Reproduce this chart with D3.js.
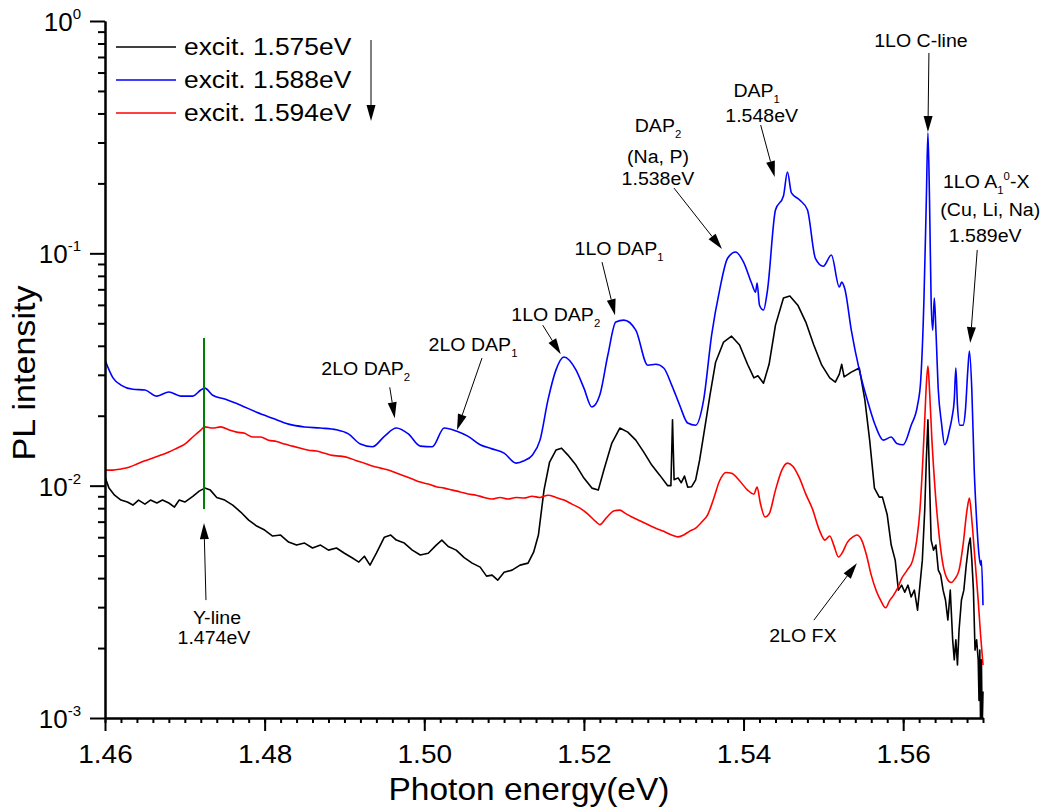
<!DOCTYPE html>
<html>
<head>
<meta charset="utf-8">
<script src="https://cdn.jsdelivr.net/npm/d3@7"></script>
<style>
  body { margin: 0; background: #fff; }
  svg text { font-family: "Liberation Sans", Arial, Helvetica, sans-serif; fill: #000; }
</style>
</head>
<body>
<div id="chart"></div>
<script>
// PL spectra, three excitation energies (energy in eV, intensity in arb. units)
var energy1575 = [1.4600,1.4605,1.4612,1.4620,1.4628,1.4635,1.4642,1.4650,1.4657,1.4665,1.4672,1.4680,1.4687,1.4693,1.4700,
  1.4710,1.4718,1.4725,1.4732,1.4740,1.4750,1.4760,1.4770,1.4780,1.4790,1.4800,1.4810,1.4820,1.4830,1.4840,1.4850,1.4860,
  1.4870,1.4880,1.4890,1.4900,1.4910,1.4918,1.4925,1.4932,1.4940,1.4950,1.4958,1.4965,1.4975,1.4985,1.4995,1.5005,1.5015,
  1.5022,1.5030,1.5040,1.5050,1.5060,1.5070,1.5078,1.5085,1.5092,1.5100,1.5110,1.5120,1.5130,1.5137,1.5143,1.5150,1.5157,
  1.5165,1.5172,1.5180,1.5190,1.5200,1.5210,1.5218,1.5225,1.5235,1.5245,1.5255,1.5265,1.5275,1.5285,1.5295,1.5305,1.5309,
  1.5311,1.5313,1.5318,1.5322,1.5326,1.5330,1.5335,1.5340,1.5345,1.5350,1.5358,1.5365,1.5375,1.5385,1.5395,1.5405,1.5413,
  1.5418,1.5425,1.5432,1.5440,1.5450,1.5458,1.5468,1.5478,1.5488,1.5498,1.5508,1.5515,1.5520,1.5523,1.5526,1.5535,1.5545,
  1.5552,1.5558,1.5564,1.5570,1.5574,1.5580,1.5585,1.5590,1.5594,1.5598,1.5602,1.5606,1.5610,1.5614,1.5618,1.5621,1.5624,
  1.5627,1.5629,1.5631,1.5633,1.5635,1.5638,1.5641,1.5644,1.5647,1.5650,1.5653,1.5656,1.5659,1.5662,1.5664,1.5666,1.5668,
  1.5670,1.5673,1.5676,1.5679,1.5682,1.5684,1.5686,1.5688,1.5690,1.5692,1.5694,1.5695,1.5696,1.5697,1.5698,1.5699,1.5700];
var pl1575 = [0.0109,0.00976,0.0091,0.00867,0.00850,0.00825,0.00867,0.00833,0.00867,0.00842,0.00867,0.00842,0.00809,0.00867,0.00850,
  0.0090,0.00947,0.00976,0.00957,0.0089,0.00867,0.00825,0.0077,0.00711,0.0067,0.00644,0.00607,0.00613,0.00572,0.00555,0.00566,0.00539,
  0.00555,0.00528,0.00539,0.00512,0.00488,0.00469,0.00497,0.00455,0.00512,0.0060,0.00613,0.00583,0.00566,0.00528,0.00503,0.00512,0.00555,
  0.00583,0.00547,0.00528,0.0049,0.00464,0.00446,0.00408,0.00412,0.00392,0.00424,0.00433,0.00455,0.00464,0.00517,0.00613,0.00957,0.01264,
  0.01423,0.0145,0.01354,0.01226,0.01078,0.00976,0.00957,0.01167,0.01526,0.0177,0.0170,0.0157,0.01395,0.01226,0.0111,0.0100,0.0100,
  0.0192,0.0106,0.0108,0.0103,0.0110,0.00986,0.0099,0.0106,0.0129,0.0165,0.0246,0.0340,0.0415,0.0440,0.0403,0.0333,0.0291,
  0.0297,0.0276,0.0333,0.0491,0.0642,0.0655,0.0598,0.0506,0.0403,0.0330,0.0291,0.0279,0.0302,0.0333,0.0294,0.0308,0.0321,
  0.0234,0.0157,0.00976,0.00893,0.00893,0.00749,0.00555,0.00478,0.00355,0.00373,0.00348,0.00373,0.00332,0.00355,0.00291,0.00373,0.00478,
  0.00786,0.0129,0.0192,0.0106,0.00583,0.00528,0.00555,0.00433,0.00412,0.00355,0.00322,0.00264,0.00355,0.00217,0.00178,0.00217,0.00169,
  0.00239,0.00322,0.00355,0.00455,0.00555,0.00595,0.00478,0.00355,0.00196,0.00217,0.00178,0.00119,0.00196,0.0009,0.00178,0.0009,0.0013];

var energy1588 = [1.4600,1.4610,1.4620,1.4635,1.4650,1.4665,1.4680,1.4695,1.4710,1.4720,1.4725,1.4735,1.4750,1.4770,1.4790,
  1.4810,1.4830,1.4850,1.4870,1.4890,1.4905,1.4920,1.4935,1.4950,1.4965,1.4980,1.4995,1.5010,1.5025,1.5040,1.5055,1.5070,
  1.5085,1.5100,1.5115,1.5125,1.5135,1.5145,1.5155,1.5165,1.5175,1.5190,1.5200,1.5210,1.5220,1.5230,1.5240,1.5250,1.5265,
  1.5280,1.5290,1.5300,1.5310,1.5320,1.5330,1.5340,1.5350,1.5360,1.5370,1.5380,1.5390,1.5400,1.5410,1.5415,1.5417,1.5420,
  1.5425,1.5430,1.5440,1.5450,1.5455,1.5460,1.5470,1.5480,1.5490,1.5500,1.5510,1.5520,1.5523,1.5527,1.5535,1.5545,1.5555,
  1.5565,1.5575,1.5585,1.5592,1.5600,1.5610,1.5618,1.5622,1.5626,1.5629,1.5631,1.5633,1.5635,1.5637,1.5639,1.5641,1.5644,
  1.5648,1.5652,1.5655,1.5658,1.5661,1.5664,1.5666,1.5668,1.5671,1.5675,1.5678,1.5681,1.5683,1.5686,1.5689,1.5692,1.5695,
  1.5697,1.5698,1.5700];
var pl1588 = [0.0347,0.0291,0.0271,0.0260,0.0258,0.0243,0.0253,0.0243,0.0243,0.0258,0.0263,0.0245,0.0236,0.0222,0.0207,
  0.0195,0.0184,0.0179,0.0177,0.0174,0.0167,0.0151,0.0147,0.0163,0.0177,0.0167,0.0148,0.0147,0.0177,0.0172,0.0163,0.0150,
  0.0144,0.0138,0.0125,0.0128,0.0135,0.0157,0.0234,0.0315,0.0358,0.0315,0.0263,0.0218,0.0246,0.0365,0.0506,0.0516,0.0467,
  0.0330,0.0333,0.0321,0.0271,0.0222,0.0186,0.0182,0.0234,0.0445,0.0695,0.0952,0.1013,0.0917,0.0745,0.0681,0.0745,0.0598,
  0.0570,0.0695,0.1536,0.1765,0.224,0.182,0.170,0.154,0.0952,0.0880,0.0983,0.0716,0.0752,0.0700,0.0467,0.0315,0.0234,
  0.0182,0.0157,0.0162,0.0152,0.0150,0.0182,0.0222,0.0285,0.0630,0.170,0.330,0.170,0.0630,0.0467,0.0642,0.0467,0.0258,
  0.0186,0.0150,0.0157,0.0174,0.0195,0.0234,0.0321,0.0222,0.0182,0.0182,0.0212,0.0315,0.0380,0.0258,0.0117,0.00711,0.00503,
  0.00455,0.00477,0.00306];

var energy1594 = [1.4600,1.4610,1.4620,1.4630,1.4640,1.4650,1.4660,1.4670,1.4680,1.4690,1.4700,1.4710,1.4720,1.4725,1.4735,
  1.4745,1.4755,1.4765,1.4775,1.4785,1.4795,1.4805,1.4815,1.4825,1.4835,1.4845,1.4855,1.4865,1.4875,1.4885,1.4895,1.4905,
  1.4915,1.4925,1.4935,1.4945,1.4955,1.4965,1.4975,1.4985,1.4995,1.5005,1.5015,1.5025,1.5035,1.5045,1.5055,1.5065,1.5075,
  1.5085,1.5095,1.5105,1.5115,1.5125,1.5135,1.5145,1.5155,1.5165,1.5175,1.5185,1.5195,1.5205,1.5215,1.5220,1.5228,1.5238,
  1.5245,1.5252,1.5260,1.5270,1.5280,1.5290,1.5300,1.5310,1.5318,1.5325,1.5332,1.5340,1.5348,1.5355,1.5362,1.5370,1.5378,
  1.5385,1.5395,1.5405,1.5413,1.5417,1.5421,1.5427,1.5432,1.5440,1.5448,1.5455,1.5462,1.5470,1.5478,1.5486,1.5495,1.5502,
  1.5508,1.5513,1.5519,1.5524,1.5530,1.5537,1.5542,1.5548,1.5554,1.5560,1.5566,1.5572,1.5578,1.5583,1.5588,1.5593,1.5598,
  1.5605,1.5612,1.5617,1.5621,1.5624,1.5627,1.5629,1.5631,1.5633,1.5636,1.5640,1.5645,1.5650,1.5655,1.5660,1.5665,1.5670,
  1.5675,1.5680,1.5683,1.5686,1.5690,1.5694,1.5697,1.5700];
var pl1594 = [0.01167,0.01167,0.0118,0.0120,0.01239,0.0128,0.01315,0.01354,0.01395,0.0145,0.0151,0.0162,0.01735,0.0179,0.0177,
  0.0179,0.0174,0.0170,0.0168,0.0162,0.0162,0.0157,0.0155,0.0151,0.0148,0.0145,0.0142,0.0141,0.0138,0.0135,0.0134,0.0132,
  0.0128,0.0125,0.01215,0.0119,0.01167,0.01133,0.0110,0.01068,0.01036,0.01016,0.0099,0.00976,0.00957,0.0094,0.0092,0.0091,0.0089,
  0.00876,0.0089,0.00876,0.0089,0.00885,0.0090,0.0089,0.0091,0.0089,0.00867,0.00833,0.0080,0.00755,0.0070,0.0068,0.00727,0.0078,
  0.00785,0.0076,0.00733,0.00706,0.0068,0.00656,0.00636,0.00613,0.00602,0.00613,0.00636,0.00656,0.0070,0.00749,0.00867,0.0105,0.0114,
  0.0113,0.0105,0.00957,0.0092,0.00986,0.00842,0.00733,0.00755,0.00957,0.01167,0.0125,0.0121,0.0108,0.0092,0.0080,0.00644,0.00583,
  0.00607,0.00555,0.00493,0.00517,0.0057,0.00602,0.00613,0.00583,0.00503,0.00412,0.00355,0.0032,0.00298,0.0032,0.00338,0.00362,0.00398,
  0.00433,0.00478,0.00583,0.00786,0.0117,0.0192,0.0271,0.0327,0.0258,0.0157,0.00957,0.00613,0.00455,0.00398,0.00383,0.00398,0.00433,
  0.00555,0.00786,0.00885,0.00711,0.00478,0.0032,0.00227,0.00169];

var seriesNames = ["excit. 1.575eV", "excit. 1.588eV", "excit. 1.594eV"];
var seriesColors = ["#000000", "#0000ff", "#ff0000"];
var xTicks = [1.46, 1.48, 1.50, 1.52, 1.54, 1.56];
var yTicks = [0.001, 0.01, 0.1, 1];
var yTickExp = ["-3", "-2", "-1", "0"];

// Y-line marker (green) and peak labels
var yLineEnergy = 1.4724, yLineRange = [0.00793, 0.0432];
var notes = [
  { e: 1.4963, v: 0.0195, tail: [-5, -31], text: [["2LO DAP_2", -29, -43]] },
  { e: 1.5041, v: 0.01735, tail: [25, -72], text: [["2LO DAP_1", 16, -79]] },
  { e: 1.5171, v: 0.0368, tail: [-18, -29], text: [["1LO DAP_2", -5, -33]] },
  { e: 1.5239, v: 0.0542, tail: [-13, -53], text: [["1LO DAP_1", 4, -60]] },
  { e: 1.5373, v: 0.1043, tail: [-48, -61], text: [["DAP_2", -64, -117], ["(Na, P)", -64, -86], ["1.538eV", -64, -64]] },
  { e: 1.5439, v: 0.213, tail: [-14, -52], text: [["DAP_1", -18, -80], ["1.548eV", -13, -55]] },
  { e: 1.5631, v: 0.333, tail: [1, -79], text: [["1LO C-line", -7, -85]] },
  { e: 1.5684, v: 0.0411, tail: [7, -93], text: [["1LO A_1^0-X", 16, -155], ["(Cu, Li, Na)", 20, -127], ["1.589eV", 15, -101]] },
  { e: 1.4724, v: 0.0069, tail: [2, 77], text: [["Y-line", 13, 101], ["1.474eV", 10, 121]] },
  { e: 1.5542, v: 0.00464, tail: [-43, 57], text: [["2LO FX", -54, 79]] }
];

var W = 1046, H = 809;
var margin = { top: 21, right: 63, bottom: 91, left: 105 },
    width = W - margin.left - margin.right,
    height = H - margin.top - margin.bottom;

var svg = d3.select('#chart').append('svg')
    .attr('width', W)
    .attr('height', H);
var g = svg.append('g')
    .attr('transform', 'translate(' + [margin.left, margin.top] + ')');

var x = d3.scaleLinear().domain([1.46, 1.57]).range([0, width]);
var y = d3.scaleLog().domain([0.001, 1]).range([height, 0]);

// text helper: markup "_c" subscript, "^c" superscript, optional rotation and x-stretch
function label(parent, px, py, str, size, anchor, k, rot) {
  var t = parent.append('g')
      .attr('transform', 'translate(' + px + ',' + py + ')' + (rot ? ' rotate(' + rot + ')' : '') +
            ' scale(' + (k || 1) + ',1)')
    .append('text')
      .attr('text-anchor', anchor || 'middle')
      .attr('font-size', size);
  var parts = str.split(/([_^].)/).filter(function (s) { return s.length; });
  var shift = 0;
  parts.forEach(function (p) {
    var off = 0, fs = size, txt = p;
    if (p[0] === '_' && p.length === 2) { off = size * 0.3; fs = size * 0.58; txt = p[1]; }
    else if (p[0] === '^' && p.length === 2) { off = -size * 0.42; fs = size * 0.58; txt = p[1]; }
    t.append('tspan').attr('dy', off - shift).attr('font-size', fs).text(txt);
    shift = off;
  });
  return t;
}

function arrow(parent, x1, y1, x2, y2) {
  var head = 16, half = 4.5;
  var a = Math.atan2(y2 - y1, x2 - x1);
  var bx = x2 - head * Math.cos(a), by = y2 - head * Math.sin(a);
  parent.append('line')
      .attr('x1', x1).attr('y1', y1).attr('x2', bx).attr('y2', by)
      .attr('stroke', '#000').attr('stroke-width', 1);
  parent.append('polygon')
      .attr('points', [[x2, y2],
        [bx + half * Math.sin(a), by - half * Math.cos(a)],
        [bx - half * Math.sin(a), by + half * Math.cos(a)]].join(' '))
      .attr('fill', '#000');
}

// curves
svg.append('defs').append('clipPath').attr('id', 'plotclip')
  .append('rect').attr('x', 0).attr('y', 0).attr('width', width + 2).attr('height', height);

var lineRaw = d3.line()
    .x(function (d) { return x(d[0]); })
    .y(function (d) { return y(d[1]); });
var lineSmooth = d3.line()
    .curve(d3.curveMonotoneX)
    .x(function (d) { return x(d[0]); })
    .y(function (d) { return y(d[1]); });

var spectra = [d3.zip(energy1575, pl1575), d3.zip(energy1588, pl1588), d3.zip(energy1594, pl1594)];
var curves = g.append('g').attr('clip-path', 'url(#plotclip)');
spectra.forEach(function (s, i) {
  curves.append('path')
      .datum(s)
      .attr('d', i === 0 ? lineRaw : lineSmooth)
      .attr('fill', 'none')
      .attr('stroke', seriesColors[i])
      .attr('stroke-width', 1.6)
      .attr('stroke-linejoin', 'round');
});

// green Y-line marker
g.append('line')
    .attr('x1', x(yLineEnergy)).attr('x2', x(yLineEnergy))
    .attr('y1', y(yLineRange[1])).attr('y2', y(yLineRange[0]))
    .attr('stroke', '#008000').attr('stroke-width', 2);

// x axis: major + minor ticks
var xMinor = d3.range(0, 56).map(function (i) { return 1.46 + i * 0.002; });
var xAxisMinor = g.append('g')
    .attr('transform', 'translate(0,' + height + ')')
    .call(d3.axisBottom(x).tickValues(xMinor).tickSize(5).tickSizeOuter(0).tickFormat(''));
var xAxis = g.append('g')
    .attr('transform', 'translate(0,' + height + ')')
    .call(d3.axisBottom(x).tickValues(xTicks).tickSize(13).tickSizeOuter(0).tickFormat(d3.format('.2f')));
xAxis.selectAll('text')
    .attr('font-size', 25)
    .attr('y', 0).attr('dy', 0)
    .attr('transform', 'translate(0,45) scale(1.12,1)');
[xAxis, xAxisMinor].forEach(function (a) {
  a.selectAll('line').attr('stroke-width', 2);
  a.select('.domain').attr('stroke-width', 2);
});

// y axis: decades + minor ticks
var yMinor = [];
[0.001, 0.01, 0.1].forEach(function (d) { for (var m = 2; m < 10; m++) yMinor.push(d * m); });
var yAxisMinor = g.append('g')
    .call(d3.axisLeft(y).tickValues(yMinor).tickSize(7).tickSizeOuter(0).tickFormat(''));
var yAxis = g.append('g')
    .call(d3.axisLeft(y).tickValues(yTicks).tickSize(15).tickSizeOuter(0).tickFormat(''));
[yAxis, yAxisMinor].forEach(function (a) {
  a.selectAll('line').attr('stroke-width', 2);
  a.select('.domain').attr('stroke-width', 2);
});
yTicks.forEach(function (v, i) {
  var t = g.append('text')
      .attr('x', -24).attr('y', y(v) + 10)
      .attr('text-anchor', 'end')
      .attr('font-size', 26);
  t.append('tspan').text('10');
  t.append('tspan').attr('font-size', 15).attr('dy', -12).text(yTickExp[i]);
});

// axis titles
label(svg, 529, 800, 'Photon energy(eV)', 31, 'middle', 1.08);
label(svg, 35, 373, 'PL intensity', 31, 'middle', 1.1, -90);

// legend
seriesNames.forEach(function (name, i) {
  var ly = 47 + i * 33;
  svg.append('line')
      .attr('x1', 116).attr('x2', 176).attr('y1', ly).attr('y2', ly)
      .attr('stroke', seriesColors[i]).attr('stroke-width', 1.6);
  label(svg, 184, ly + 8, name, 24, 'start', 1.1);
});
arrow(svg, 371, 40, 371, 121);

// peak annotations
var ann = g.append('g');
notes.forEach(function (n) {
  var px = x(n.e), py = y(n.v);
  arrow(ann, px + n.tail[0], py + n.tail[1], px, py);
  n.text.forEach(function (tl) {
    label(ann, px + tl[1], py + tl[2], tl[0], 19, 'middle', 1.03);
  });
});
</script>
</body>
</html>
